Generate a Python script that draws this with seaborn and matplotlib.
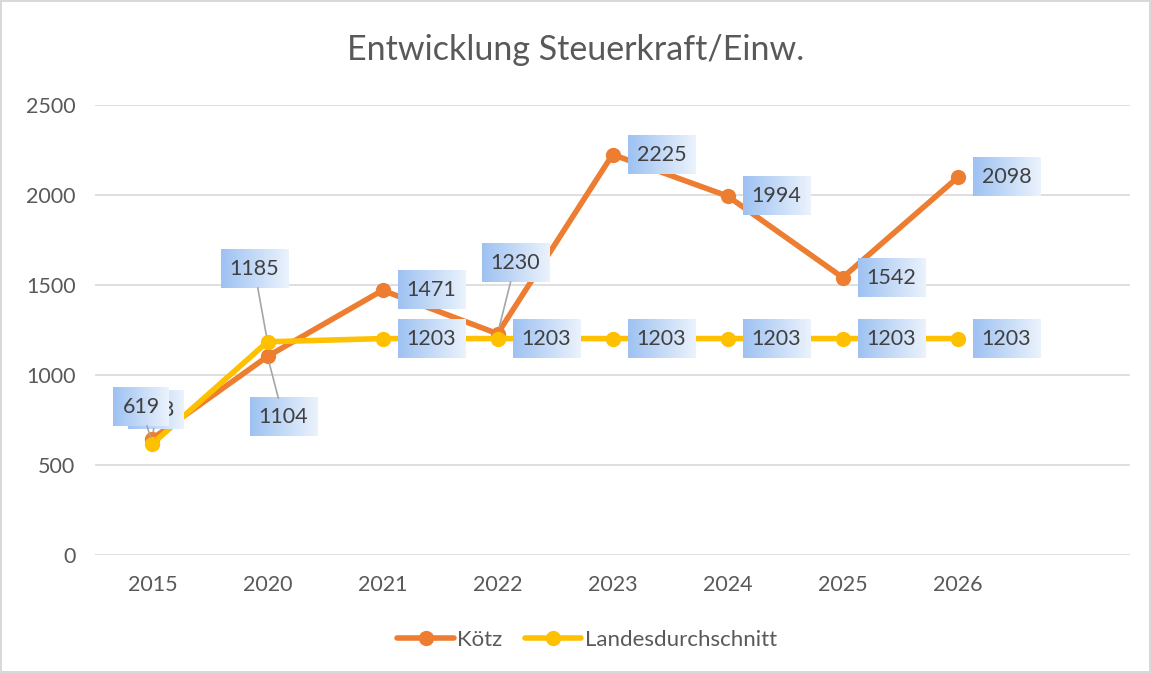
import numpy as np
import pandas as pd
import matplotlib
matplotlib.use("Agg")
import matplotlib.pyplot as plt
import seaborn as sns
from matplotlib.lines import Line2D

years = ["2015", "2020", "2021", "2022", "2023", "2024", "2025", "2026"]
koetz = [648, 1104, 1471, 1230, 2225, 1994, 1542, 2098]
landes = [619, 1185, 1203, 1203, 1203, 1203, 1203, 1203]
series_names = ["Kötz", "Landesdurchschnitt"]
colors = ["#ED7D31", "#FFC000"]

sns.set_theme(style="white")
plt.rcParams["font.family"] = ["Lato", "DejaVu Sans"]
TXT = "#595959"
LW = 4.0
MS = 11

df = pd.DataFrame({
    "Jahr": years * 2,
    "Wert": koetz + landes,
    "Reihe": [series_names[0]] * len(years) + [series_names[1]] * len(years),
})

fig = plt.figure(figsize=(11.51, 6.73), dpi=100)
fig.patch.set_edgecolor("#D9D9D9")
fig.patch.set_linewidth(1.5)
ax = fig.add_axes([0.0825, 0.175, 0.982 - 0.0825, 0.844 - 0.175])

sns.lineplot(data=df, x="Jahr", y="Wert", hue="Reihe", palette=colors,
             marker="o", markersize=MS, markeredgewidth=0, linewidth=LW,
             sort=False, ax=ax, legend=False)

ax.set_xlim(-0.5, len(years) + 0.5)
ax.set_ylim(0, 2500)
ax.set_yticks(np.arange(0, 2501, 500))
ax.grid(axis="y", color="#D9D9D9", linewidth=1.2)
ax.set_axisbelow(True)
for s in ax.spines.values():
    s.set_visible(False)
ax.tick_params(axis="both", colors=TXT, labelsize=15.5, length=0)
ax.tick_params(axis="x", pad=14)
ax.tick_params(axis="y", pad=14)
ax.set_xlabel("")
ax.set_ylabel("")

fig.text(0.5, 0.926, "Entwicklung Steuerkraft/Einw.", ha="center", va="center",
         fontsize=24.5, color=TXT)

LFS = 15.5
PAD = 0.42
PADPX = PAD * LFS * 100 / 72
special = {
    (0, 0): (-24, 29, True),
    (1, 1): (-47, 73, True),
    (0, 1): (-18, -61, True),
    (0, 3): (-16, 71, True),
}
label_texts = []


def add_label(si, pi, v, z):
    dx, dy, lead = special.get((si, pi), (15, 0, False))
    kw = dict(textcoords="offset pixels", ha="left", va="center",
              fontsize=LFS, color="#404040", zorder=z,
              bbox=dict(boxstyle=f"square,pad={PAD}", fc="none", ec="none"))
    if lead:
        kw["arrowprops"] = dict(arrowstyle="-", color="#A6A6A6", lw=1.2,
                                shrinkA=0, shrinkB=5)
    label_texts.append(ax.annotate(str(v), xy=(pi, v), xytext=(dx + PADPX, dy), **kw))


for si, vals in enumerate([koetz, landes]):
    for pi, v in enumerate(vals):
        if si == 1 and pi == 0:
            continue
        add_label(si, pi, v, 6)
special[(1, 0)] = (-39, 37, True)
add_label(1, 0, landes[0], 8)

fig.canvas.draw()
renderer = fig.canvas.get_renderer()
grad = np.linspace(0, 1, 64)
c0 = np.array([0.62, 0.76, 0.95])
c1 = np.array([0.92, 0.95, 0.99])
img = (c0[None, :] * (1 - grad[:, None]) + c1[None, :] * grad[:, None])[None, :, :]
inv = ax.transData.inverted()
for t in label_texts:
    bb = t.get_bbox_patch().get_window_extent(renderer)
    (x0, y0), (x1, y1) = inv.transform([[bb.x0, bb.y0], [bb.x1, bb.y1]])
    ax.imshow(img, extent=(x0, x1, y0, y1), aspect="auto", zorder=t.get_zorder() - 0.5,
              clip_on=False, interpolation="bilinear")
ax.set_xlim(-0.5, len(years) + 0.5)
ax.set_ylim(0, 2500)

handles = [Line2D([0], [0], color=c, lw=LW, marker="o", markersize=MS, markeredgewidth=0)
           for c in colors]
fig.legend(handles, series_names, loc="center", bbox_to_anchor=(0.51, 0.049), ncol=2,
           frameon=False, fontsize=16, labelcolor=TXT, handlelength=2.55,
           handletextpad=0.15, columnspacing=1.0)

fig.savefig("out.png", dpi=100)
